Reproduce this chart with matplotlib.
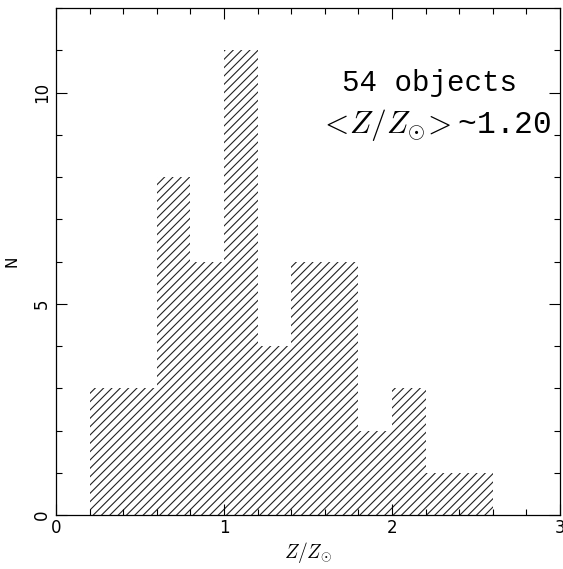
import matplotlib
matplotlib.use("Agg")
import matplotlib.pyplot as plt
from matplotlib.ticker import MultipleLocator

bin_edges = [0.2, 0.4, 0.6, 0.8, 1.0, 1.2, 1.4, 1.6, 1.8, 2.0, 2.2, 2.4, 2.6]
counts = [3, 3, 8, 6, 11, 4, 6, 6, 2, 3, 1, 1]

plt.rcParams['hatch.linewidth'] = 0.8
plt.rcParams['mathtext.fontset'] = 'cm'

fig = plt.figure(figsize=(5.63, 5.69), dpi=100)
ax = fig.add_axes([56/563, 54/569, 504/563, 507/569])

ax.hist(bin_edges[:-1], bins=bin_edges, weights=counts, histtype='stepfilled',
        facecolor='none', edgecolor='#222222', hatch='////', linewidth=0)

ax.set_xlim(0, 3)
ax.set_ylim(0, 12)
ax.xaxis.set_major_locator(MultipleLocator(1))
ax.xaxis.set_minor_locator(MultipleLocator(0.2))
ax.yaxis.set_major_locator(MultipleLocator(5))
ax.yaxis.set_minor_locator(MultipleLocator(1))
ax.tick_params(which='both', direction='in', top=True, right=True, width=0.8)
ax.tick_params(which='major', length=8, labelsize=12)
ax.tick_params(which='minor', length=4)
ax.tick_params(axis='x', pad=3)
for lab in ax.get_yticklabels():
    lab.set_rotation(90)
    lab.set_va('center')
for s in ax.spines.values():
    s.set_linewidth(0.9)

ax.set_xlabel(r'$Z/Z_{\odot}$', fontsize=14, labelpad=2)
ax.set_ylabel('N', fontsize=11, labelpad=10)

ax.text(0.568, 0.836, '54 objects', transform=ax.transAxes, fontsize=21,
        family='Liberation Mono', ha='left', va='baseline')
ax.text(0.522, 0.753, r'$<\!Z/Z_{\odot}\!>$~1.20', transform=ax.transAxes,
        fontsize=22.5, family='Liberation Mono', ha='left', va='baseline')

fig.savefig('out.png', dpi=100)
